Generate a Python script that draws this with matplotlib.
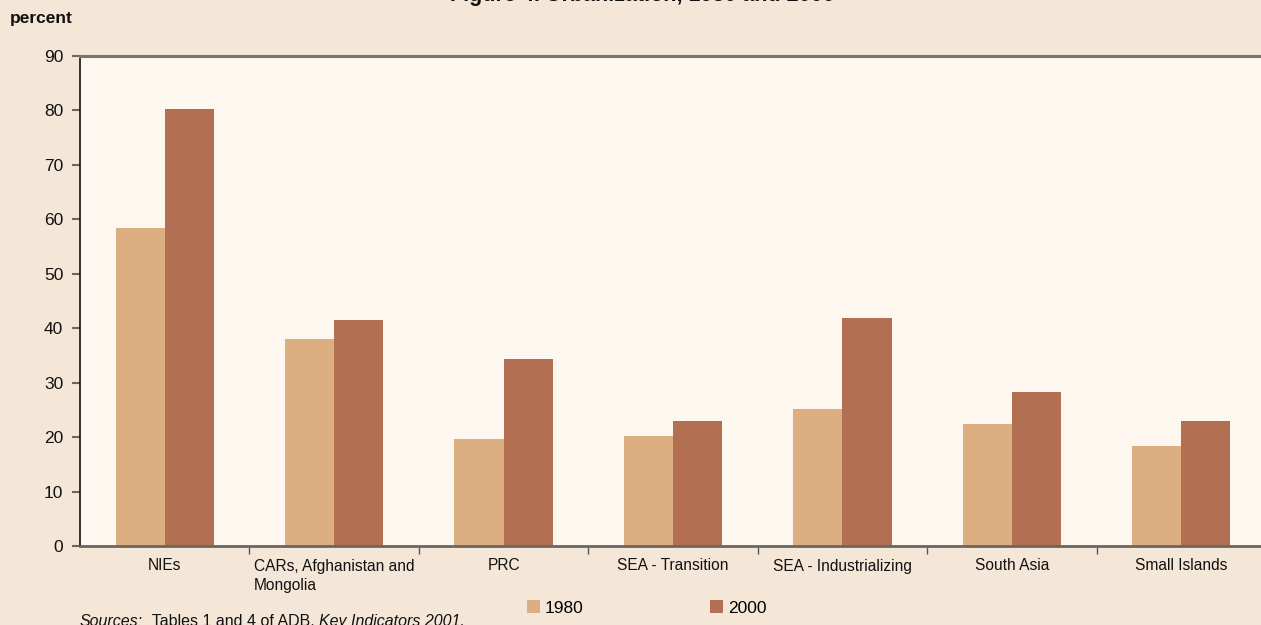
import matplotlib
matplotlib.use("Agg")
import matplotlib.pyplot as plt
import numpy as np
from matplotlib.patches import Patch

plt.rcParams['font.family'] = ['Liberation Sans', 'DejaVu Sans']

categories = ["NIEs", "CARs, Afghanistan and\nMongolia", "PRC", "SEA - Transition",
              "SEA - Industrializing", "South Asia", "Small Islands"]
urban_1980 = [58.4, 38.0, 19.7, 20.2, 25.2, 22.4, 18.4]
urban_2000 = [80.3, 41.5, 34.3, 23.0, 41.9, 28.3, 23.0]
series_labels = ["1980", "2000"]
y_ticks = [0, 10, 20, 30, 40, 50, 60, 70, 80, 90]

fig_bg = "#F4E7D7"
plot_bg = "#FEF7F0"
c1980 = "#DBAF82"
c2000 = "#B36F51"

fig = plt.figure(figsize=(12.61, 6.25), dpi=100, facecolor=fig_bg)
ax = fig.add_axes([80 / 1261, 1 - 546 / 625, 1186 / 1261, 490 / 625])
ax.set_facecolor(plot_bg)

x = np.arange(len(categories))
w = 0.29
ax.bar(x - w / 2, urban_1980, width=w, color=c1980, zorder=2)
ax.bar(x + w / 2, urban_2000, width=w, color=c2000, zorder=2)

ax.set_xlim(-0.5, len(categories) - 0.5)
ax.set_ylim(0, 90)
ax.set_yticks(y_ticks)
ax.tick_params(axis='y', direction='out', length=6, width=1.5, color='#666666',
               labelsize=12.5, pad=6, labelcolor='#111111')

ax.set_xticks(x)
ax.set_xticklabels(categories, fontsize=11.2, color='#111111', multialignment='left',
                   linespacing=1.35)
ax.tick_params(axis='x', which='major', length=0, pad=9)
ax.set_xticks(np.arange(0.5, len(categories) - 0.5, 1), minor=True)
ax.tick_params(axis='x', which='minor', direction='out', length=6, width=1,
               color='#555555')

ax.spines['right'].set_visible(False)
ax.spines['top'].set_color('#7a7570')
ax.spines['top'].set_linewidth(2.2)
ax.spines['bottom'].set_color('#6a6560')
ax.spines['bottom'].set_linewidth(2.0)
ax.spines['left'].set_color('#111111')
ax.spines['left'].set_linewidth(1.2)

fig.text(10 / 1261, 1 - 18 / 625, "percent", fontsize=12.5, fontweight='bold',
         va='center', ha='left', color='#111111')

fig.text(642 / 1261, 1 - 0.8 / 625, "Figure 4. Urbanization, 1980 and 2000", fontsize=15.5,
         fontweight='bold', ha='center', va='baseline', color='#111111')

handles = [Patch(facecolor=c1980), Patch(facecolor=c2000)]
fig.legend(handles, series_labels, loc='center left',
           bbox_to_anchor=(527 / 1261, 1 - 608 / 625), ncol=2, frameon=False,
           fontsize=12.5, handlelength=0.72, handleheight=0.72, handletextpad=0.3,
           columnspacing=7.3, borderaxespad=0, borderpad=0)

t1 = fig.text(80 / 1261, 1 - 626 / 625, "Sources:", fontsize=11.5, style='italic',
              ha='left', va='baseline', color='#111111')
t2 = fig.text(0, 0, "  Tables 1 and 4 of ADB. ", fontsize=11.5, ha='left',
              va='baseline', color='#111111', transform=None)
t3 = fig.text(0, 0, "Key Indicators 2001.", fontsize=11.5, style='italic', ha='left',
              va='baseline', color='#111111', transform=None)

fig.canvas.draw()
r = fig.canvas.get_renderer()
b1 = t1.get_window_extent(r)
base_y = t1.get_transform().transform(t1.get_position())[1]
t2.set_position((b1.x1, base_y))
fig.canvas.draw()
b2 = t2.get_window_extent(r)
t3.set_position((b2.x1, base_y))

fig.savefig("out.png", dpi=100, facecolor=fig_bg)
